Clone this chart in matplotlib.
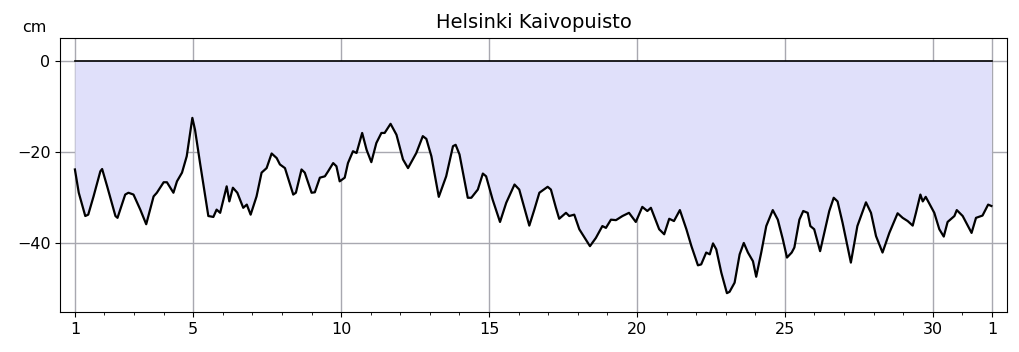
import numpy as np
from matplotlib import pyplot as plt

# time in days (1 = start of month, 32 = first day of next month), sea level in cm
days = [1.0, 1.13, 1.35, 1.45, 1.63, 1.86, 1.92, 2.09, 2.37, 2.44, 2.70, 2.81, 2.98,
        3.21, 3.41, 3.66, 3.77, 4.0, 4.11, 4.33, 4.45, 4.62, 4.78, 4.97, 5.06, 5.23,
        5.51, 5.68, 5.79, 5.91, 6.13, 6.22, 6.34, 6.49, 6.69, 6.81, 6.94, 7.14, 7.31,
        7.48, 7.65, 7.82, 7.93, 8.1, 8.38, 8.47, 8.66, 8.77, 9.0, 9.11, 9.28, 9.45,
        9.56, 9.73, 9.84, 9.95, 10.12, 10.23, 10.40, 10.52, 10.71, 10.86, 11.02, 11.19,
        11.36, 11.47, 11.67, 11.87, 12.09, 12.26, 12.54, 12.76, 12.88, 13.05, 13.30,
        13.55, 13.78, 13.87, 14.0, 14.28, 14.40, 14.62, 14.79, 14.90, 15.12, 15.37,
        15.58, 15.86, 16.02, 16.36, 16.53, 16.70, 16.98, 17.09, 17.26, 17.37, 17.60,
        17.71, 17.88, 18.05, 18.41, 18.61, 18.83, 18.95, 19.12, 19.29, 19.51, 19.73,
        19.96, 20.18, 20.35, 20.47, 20.75, 20.92, 21.09, 21.25, 21.45, 21.67, 21.84,
        22.06, 22.17, 22.34, 22.46, 22.57, 22.68, 22.85, 23.04, 23.13, 23.30, 23.47,
        23.61, 23.75, 23.92, 24.03, 24.20, 24.37, 24.59, 24.76, 24.93, 25.07, 25.23,
        25.32, 25.49, 25.62, 25.77, 25.86, 25.99, 26.19, 26.33, 26.50, 26.65, 26.78,
        26.95, 27.23, 27.45, 27.74, 27.91, 28.08, 28.30, 28.53, 28.81, 28.98, 29.15,
        29.32, 29.43, 29.58, 29.66, 29.76, 30.05, 30.22, 30.37, 30.50, 30.73, 30.81,
        31.01, 31.31, 31.46, 31.68, 31.87, 31.98]
level = [-23.8, -28.9, -34.0, -33.7, -29.7, -24.2, -23.7, -27.5, -34.0, -34.4, -29.3,
         -28.9, -29.3, -32.6, -35.8, -29.7, -28.9, -26.6, -26.6, -28.9, -26.4, -24.5,
         -20.9, -12.5, -15.1, -22.4, -34.0, -34.2, -32.6, -33.3, -27.5, -30.8, -27.8,
         -28.9, -32.2, -31.5, -33.7, -29.7, -24.5, -23.5, -20.3, -21.3, -22.7, -23.5,
         -29.3, -28.9, -23.8, -24.5, -28.9, -28.8, -25.6, -25.3, -24.2, -22.4, -23.1,
         -26.4, -25.6, -22.4, -19.8, -20.2, -15.8, -19.5, -22.2, -18.0, -15.8, -15.8,
         -13.8, -16.2, -21.6, -23.5, -20.2, -16.5, -17.1, -20.9, -29.8, -25.3, -18.7,
         -18.4, -20.5, -30.0, -30.0, -28.2, -24.7, -25.3, -30.4, -35.3, -31.1, -27.1,
         -28.2, -36.1, -32.6, -28.9, -27.6, -28.2, -32.2, -34.6, -33.3, -34.0, -33.7,
         -36.9, -40.6, -38.8, -36.2, -36.6, -34.8, -34.9, -34.0, -33.3, -35.3, -32.0,
         -32.9, -32.2, -36.9, -38.0, -34.6, -35.1, -32.7, -36.9, -40.6, -44.8, -44.6,
         -42.0, -42.4, -40.0, -41.3, -46.4, -50.9, -50.6, -48.6, -42.4, -39.9, -42.0,
         -43.9, -47.3, -42.0, -36.2, -32.7, -34.8, -39.1, -43.1, -42.0, -40.9, -34.8,
         -32.9, -33.3, -36.2, -36.9, -41.7, -37.7, -32.9, -30.0, -30.8, -35.5, -44.2,
         -36.2, -31.0, -33.3, -38.4, -42.0, -37.7, -33.4, -34.4, -35.1, -36.1, -33.3,
         -29.3, -30.8, -29.8, -33.3, -36.9, -38.5, -35.3, -34.0, -32.7, -34.0, -37.7,
         -34.4, -33.9, -31.5, -31.8]

tick_days = [1, 5, 10, 15, 20, 25, 30, 32]
tick_labels = ["1", "5", "10", "15", "20", "25", "30", "1"]
y_ticks = [0, -20, -40]

fig = plt.figure(figsize=(10.19, 3.52), dpi=100)
ax = fig.add_axes([0.059, 0.114, 0.929, 0.778])

ax.fill_between(days, 0, level, color="#e0e0fa", lw=0)
ax.plot([1, 32], [0, 0], color="black", lw=1.2)
ax.plot(days, level, color="black", lw=1.6)

ax.set_xlim(0.5, 32.5)
ax.set_ylim(-55, 5)
ax.set_xticks(tick_days)
ax.set_xticklabels(tick_labels)
ax.set_xticks(np.arange(1, 33), minor=True)
ax.set_yticks(y_ticks)
ax.tick_params(labelsize=11.5)
ax.grid(True, which="major", color="#a8a8b0", lw=1)
ax.set_axisbelow(True)

ax.set_title("Helsinki Kaivopuisto", fontsize=14, pad=7)
ax.text(-0.014, 1.021, "cm", transform=ax.transAxes, ha="right", va="baseline", fontsize=11.5)

fig.savefig("out.png", dpi=100)
